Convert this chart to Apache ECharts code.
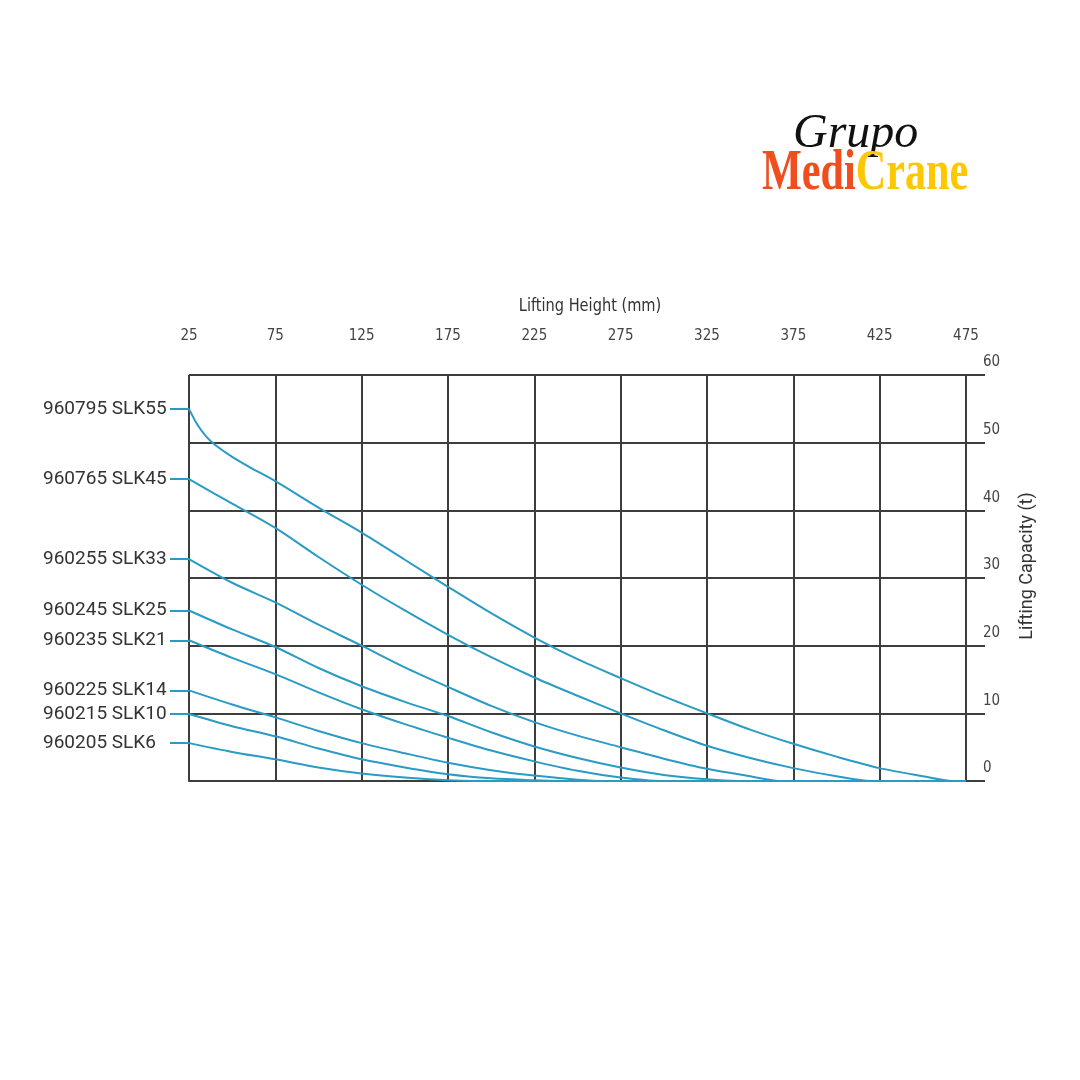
<!DOCTYPE html>
<html><head><meta charset="utf-8">
<script src="https://cdn.jsdelivr.net/npm/echarts@6/dist/echarts.min.js"></script>
<style>html,body{margin:0;padding:0;background:#fff}#c{width:1080px;height:1080px}</style>
</head><body><div id="c"></div>
<script>
const seriesNames = ['960795 SLK55','960765 SLK45','960255 SLK33','960245 SLK25','960235 SLK21','960225 SLK14','960215 SLK10','960205 SLK6'];
const slk55 = [[25,55],[30,52.6],[35,50.9],[40,49.7],[50,47.9],[60,46.4],[75,44.3],[100,40.4],[125,36.7],[150,32.7],[175,28.7],[200,24.8],[225,21.2],[250,18.0],[275,15.2],[300,12.5],[325,10.0],[350,7.6],[375,5.5],[400,3.6],[425,1.9],[450,0.7],[467,0],[475,0]];
const slk45 = [[25,44.6],[50,41.0],[75,37.4],[100,33.1],[125,29.0],[150,25.2],[175,21.6],[200,18.3],[225,15.3],[250,12.6],[275,10.0],[300,7.5],[325,5.2],[350,3.4],[375,1.9],[400,0.7],[420,0],[475,0]];
const slk33 = [[25,32.8],[50,29.3],[75,26.4],[100,23.1],[125,20.0],[150,16.8],[175,13.9],[200,11.1],[225,8.7],[250,6.7],[275,5.0],[300,3.3],[325,1.8],[350,0.7],[368,0],[475,0]];
const slk25 = [[25,25.2],[50,22.4],[75,19.8],[100,16.7],[125,14.0],[150,11.7],[175,9.6],[200,7.2],[225,5.1],[250,3.4],[275,2.0],[300,0.9],[325,0.25],[342,0],[475,0]];
const slk21 = [[25,20.8],[50,18.2],[75,15.8],[100,13.1],[125,10.6],[150,8.4],[175,6.4],[200,4.5],[225,2.9],[250,1.5],[275,0.5],[298,0],[475,0]];
const slk14 = [[25,13.4],[50,11.3],[75,9.4],[100,7.4],[125,5.6],[150,4.1],[175,2.7],[200,1.6],[225,0.8],[250,0.2],[265,0],[475,0]];
const slk10 = [[25,9.9],[50,8.1],[75,6.6],[100,4.8],[125,3.2],[150,2.0],[175,1.0],[200,0.4],[225,0.1],[240,0],[475,0]];
const slk6  = [[25,5.6],[50,4.3],[75,3.2],[100,2.0],[125,1.1],[150,0.5],[175,0.1],[190,0],[475,0]];
const allData = [slk55, slk45, slk33, slk25, slk21, slk14, slk10, slk6];
const startValues = allData.map(d => d[0][1]);

const gridColor = '#3d3d3d';
const curveColor = '#2a9bc4';
const narrow = '"DejaVu Sans Condensed", sans-serif';

const chart = echarts.init(document.getElementById('c'), null, {renderer: 'canvas'});
chart.setOption({
  backgroundColor: '#fff',
  animation: false,
  grid: {left: 189, right: 114, top: 375, bottom: 299, containLabel: false},
  xAxis: {
    type: 'value', position: 'top', min: 25, max: 475, interval: 50,
    axisLine: {show: true, lineStyle: {color: gridColor, width: 2}},
    axisTick: {show: true, length: 28, lineStyle: {color: gridColor, width: 2}},
    axisLabel: {margin: 31, fontFamily: narrow, fontSize: 15, color: '#444', showMinLabel: true, showMaxLabel: true},
    splitLine: {show: true, lineStyle: {color: gridColor, width: 2}}
  },
  yAxis: [{
    type: 'value', position: 'right', min: 0, max: 60, interval: 10,
    name: 'Lifting Capacity (t)', nameLocation: 'middle', nameRotate: 90, nameGap: 52,
    nameTextStyle: {fontFamily: 'Roboto', fontSize: 18, color: '#333', padding: [0, 0, 0, 24]},
    axisLine: {show: true, lineStyle: {color: gridColor, width: 2}},
    axisTick: {show: true, length: 19, lineStyle: {color: gridColor, width: 2}},
    axisLabel: {margin: 17, fontFamily: narrow, fontSize: 15, color: '#444', verticalAlign: 'bottom', padding: [0, 0, 5, 0]},
    splitLine: {show: true, lineStyle: {color: gridColor, width: 2}}
  }, {
    type: 'value', position: 'left', min: 0, max: 60,
    axisLine: {show: false},
    splitLine: {show: false},
    axisTick: {show: true, customValues: startValues, length: 19, lineStyle: {color: curveColor, width: 2}},
    axisLabel: {customValues: startValues, margin: 146, align: 'left', fontFamily: 'Roboto', fontSize: 19, color: '#333',
      formatter: v => { const i = startValues.indexOf(v); return i >= 0 ? seriesNames[i] : ''; }}
  }],
  graphic: [
    {type: 'text', x: 590, y: 306, scaleX: 0.9, style: {text: 'Lifting Height (mm)', fontFamily: narrow, fontSize: 18, fill: '#333', align: 'center', verticalAlign: 'middle'}},
    {type: 'text', x: 793, y: 134, style: {text: 'Grupo', fontFamily: '"Liberation Serif", serif', fontStyle: 'italic', fontSize: 48, fill: '#111', align: 'left', verticalAlign: 'middle'}},
    {type: 'text', x: 762, y: 174, scaleX: 0.74, style: {
      text: '{a|Medi}{b|Crane}', align: 'left', verticalAlign: 'middle',
      rich: {
        a: {fontFamily: '"Liberation Serif", serif', fontWeight: 'bold', fontSize: 57, fill: '#f04e1e'},
        b: {fontFamily: '"Liberation Serif", serif', fontWeight: 'bold', fontSize: 57, fill: '#fdc800'}
      }}}
  ],
  series: allData.map((d, i) => ({
    name: seriesNames[i], type: 'line', data: d, xAxisIndex: 0, yAxisIndex: 0,
    showSymbol: false, smooth: 0.3, clip: true,
    lineStyle: {color: curveColor, width: 2}, z: 5
  }))
});
</script></body></html>
